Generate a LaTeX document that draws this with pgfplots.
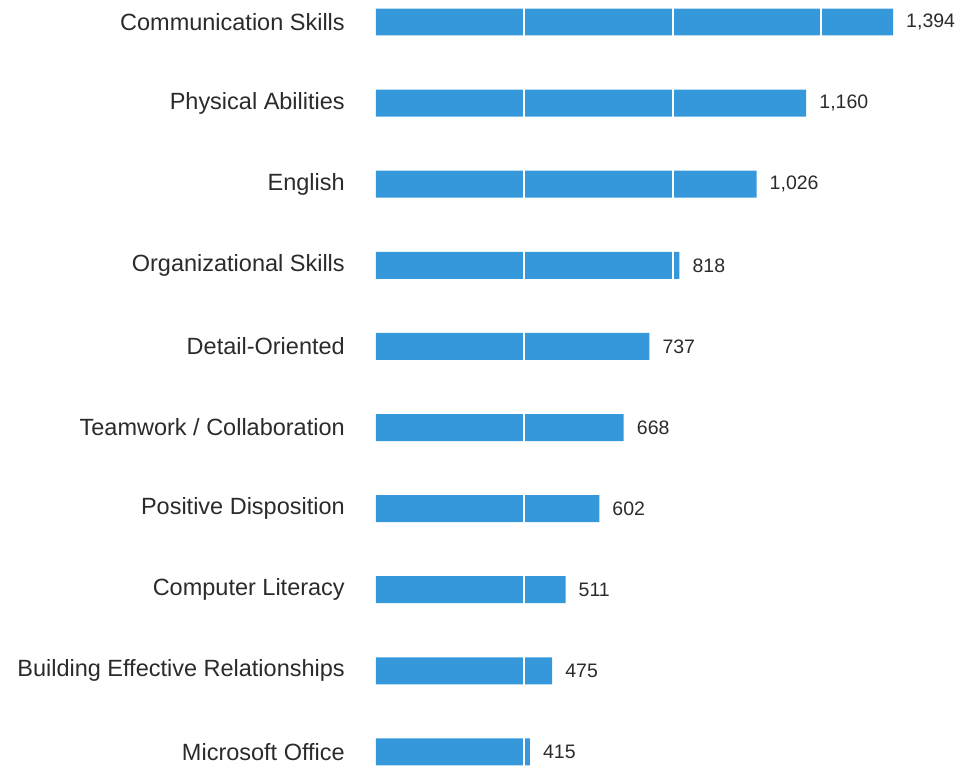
\documentclass[border=0pt]{standalone}
\usepackage{pgfplots}
\pgfplotsset{compat=1.18}
\usepackage{fontspec}
\setmainfont{Liberation Sans}
\definecolor{barblue}{HTML}{3598DB}
\definecolor{txt}{HTML}{2B2B2B}
\begin{document}
\begin{tikzpicture}
\begin{axis}[
  scale only axis, width=588pt, height=766pt,
  xbar, bar width=27pt, bar shift=0pt,
  xmin=0, xmax=1585,
  ymin=-0.259, ymax=9.185, y dir=reverse,
  axis line style={draw=none},
  major tick length=0pt,
  xtick={400,800,1200}, xticklabels={},
  xmajorgrids, major grid style={white, line width=2pt},
  axis on top,
  ytick={0,...,9},
  yticklabels={Communication Skills, Physical Abilities, English, Organizational Skills, Detail-Oriented, Teamwork / Collaboration, Positive Disposition, Computer Literacy, Building Effective Relationships, Microsoft Office},
  yticklabel style={font=\fontsize{23.5}{23.5}\selectfont, text=txt, anchor=east, inner sep=0pt, xshift=-31pt},
  /pgf/number format/.cd, 1000 sep={,}, assume math mode=true,
  /pgfplots/.cd,
  nodes near coords,
  every node near coord/.append style={font=\fontsize{19.5}{19.5}\selectfont, text=txt, anchor=west, inner sep=0pt, xshift=13pt},
]
\addplot[fill=barblue, draw=none] coordinates {
(1394,0) (1160,1) (1026,2) (818,3) (737,4) (668,5) (602,6) (511,7) (475,8) (415,9)};
\end{axis}
\path (current axis.south west) ++(-376pt,0pt) coordinate (bb);
\end{tikzpicture}
\end{document}
